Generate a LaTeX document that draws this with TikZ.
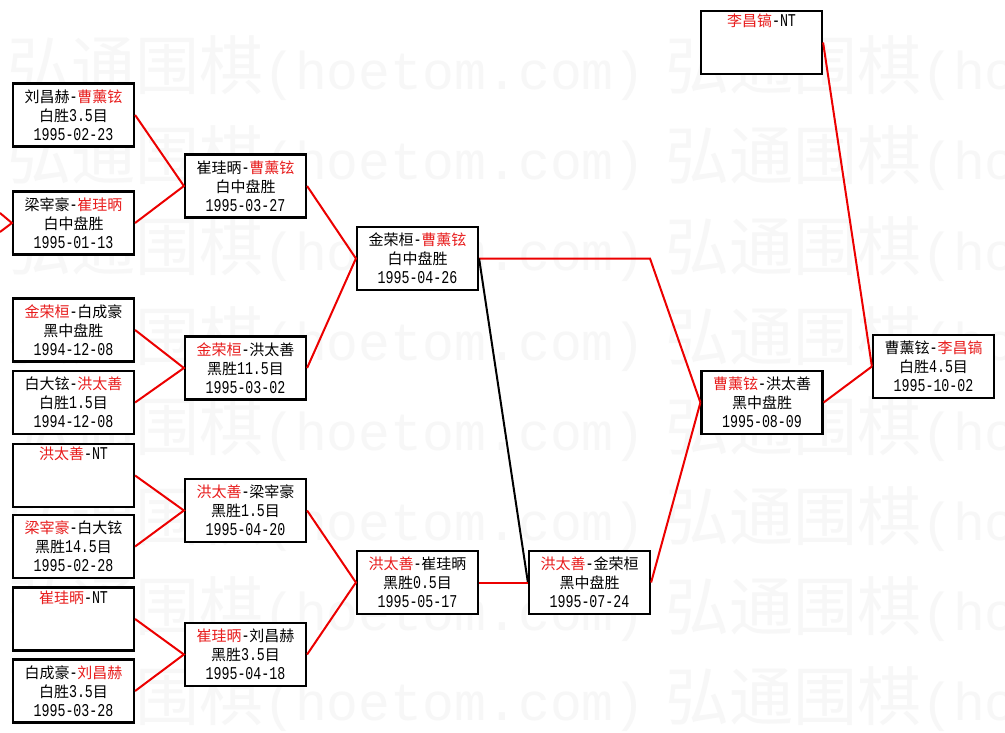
\documentclass[tikz,border=0pt]{standalone}
\usepackage{fontspec}
\setmainfont{Noto Sans CJK SC}
\newfontfamily\latfont{Liberation Mono}[Scale=1.2, FakeStretch=0.74]
\newfontfamily\wmlat{Liberation Mono}[Scale=0.83]
\definecolor{wred}{RGB}{232,28,28}
\definecolor{lred}{RGB}{236,0,0}
\definecolor{wmgray}{RGB}{247,247,247}
\newcommand\lat[1]{{\latfont #1}}
\newcommand\rn[1]{\textcolor{wred}{#1}}
\begin{document}
\begin{tikzpicture}[x=1pt,y=-1pt,
  box/.style={draw=black, line width=2.2pt, fill=white, minimum width=121pt, minimum height=63pt,
    inner sep=0pt, align=center, font=\fontsize{15}{19}\selectfont},
  redline/.style={draw=lred, line width=2pt},
  blackline/.style={draw=black, line width=2pt},
  wm/.style={anchor=base west, text=wmgray, inner sep=0pt, font=\fontsize{64}{64}\selectfont}]
\fill[white] (0,0) rectangle (1005,733);
\useasboundingbox (0,0) rectangle (1005,733);
% watermark
\begin{scope}
\clip (0,0) rectangle (1005,733);
\foreach \r in {0,...,7} {
  \node[wm] (wma\r) at (7,{90+90*\r}) {弘通围棋{\wmlat(hoetom.com)}};
  \node[wm] (wmb\r) at (665,{90+90*\r}) {弘通围棋{\wmlat(hoetom.com)}};
}
\end{scope}
% round 1
\node[box] (p1) at (73.5,115) {刘昌赫\lat{-}\rn{曹薰铉}\\白胜\lat{3.5}目\\\lat{1995-02-23}};
\node[box] (p2) at (73.5,223) {梁宰豪\lat{-}\rn{崔珪昞}\\白中盘胜\\\lat{1995-01-13}};
\node[box] (p3) at (73.5,330) {\rn{金荣桓}\lat{-}白成豪\\黑中盘胜\\\lat{1994-12-08}};
\node[box] (p4) at (73.5,402.5) {白大铉\lat{-}\rn{洪太善}\\白胜\lat{1.5}目\\\lat{1994-12-08}};
\node[box] (p5) at (73.5,475.5) {\rn{洪太善}\lat{-NT}\\\strut\\\strut};
\node[box] (p6) at (73.5,546.5) {\rn{梁宰豪}\lat{-}白大铉\\黑胜\lat{14.5}目\\\lat{1995-02-28}};
\node[box] (p7) at (73.5,619) {\rn{崔珪昞}\lat{-NT}\\\strut\\\strut};
\node[box] (p8) at (73.5,691) {白成豪\lat{-}\rn{刘昌赫}\\白胜\lat{3.5}目\\\lat{1995-03-28}};
% round 2
\node[box] (qa) at (245.5,186) {崔珪昞\lat{-}\rn{曹薰铉}\\白中盘胜\\\lat{1995-03-27}};
\node[box] (qb) at (245.5,368) {\rn{金荣桓}\lat{-}洪太善\\黑胜\lat{11.5}目\\\lat{1995-03-02}};
\node[box] (qc) at (245.5,510.5) {\rn{洪太善}\lat{-}梁宰豪\\黑胜\lat{1.5}目\\\lat{1995-04-20}};
\node[box] (qd) at (245.5,654.5) {\rn{崔珪昞}\lat{-}刘昌赫\\黑胜\lat{3.5}目\\\lat{1995-04-18}};
% round 3
\node[box] (re) at (417.5,258.5) {金荣桓\lat{-}\rn{曹薰铉}\\白中盘胜\\\lat{1995-04-26}};
\node[box] (rf) at (417.5,582.5) {\rn{洪太善}\lat{-}崔珪昞\\黑胜\lat{0.5}目\\\lat{1995-05-17}};
% later rounds
\node[box] (sg) at (589.5,582.5) {\rn{洪太善}\lat{-}金荣桓\\黑中盘胜\\\lat{1995-07-24}};
\node[box] (sh) at (762,402.5) {\rn{曹薰铉}\lat{-}洪太善\\黑中盘胜\\\lat{1995-08-09}};
\node[box] (si) at (761.5,42.5) {\rn{李昌镐}\lat{-NT}\\\strut\\\strut};
\node[box] (sj) at (933.5,366.5) {曹薰铉\lat{-}\rn{李昌镐}\\白胜\lat{4.5}目\\\lat{1995-10-02}};
% free ends and bends
\coordinate (l1) at (0,213);
\coordinate (l2) at (0,232);
\coordinate (beh) at (650,258.5);
% connectors
\draw[redline] (l1) -- (p2.west) -- (l2);
\draw[redline] (p1.east) -- (qa.west) -- (p2.east);
\draw[redline] (p3.east) -- (qb.west) -- (p4.east);
\draw[redline] (p5.east) -- (qc.west) -- (p6.east);
\draw[redline] (p7.east) -- (qd.west) -- (p8.east);
\draw[redline] (qa.east) -- (re.west) -- (qb.east);
\draw[redline] (qc.east) -- (rf.west) -- (qd.east);
\draw[redline] (re.east) -- (beh) -- (sh.west);
\draw[blackline] (re.east) -- (sg.west);
\draw[redline] (rf.east) -- (sg.west);
\draw[redline] (sg.east) -- (sh.west);
\draw[redline] (sh.east) -- (sj.west);
\draw[redline] (si.east) -- (sj.west);
\end{tikzpicture}
\end{document}
